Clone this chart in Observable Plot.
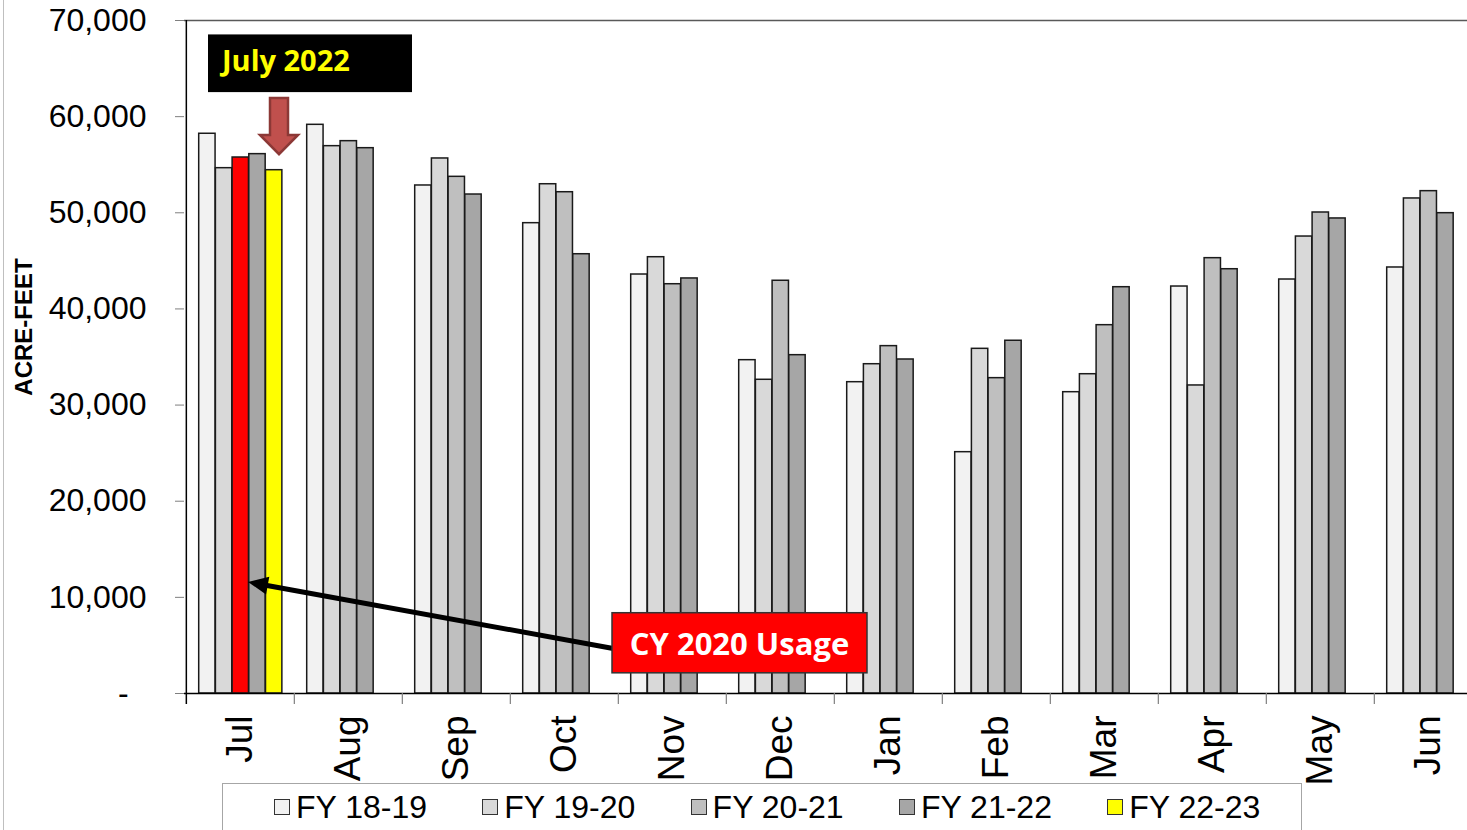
<!DOCTYPE html>
<html><head><meta charset="utf-8">
<script src="https://cdn.jsdelivr.net/npm/d3@7"></script>
<script src="https://cdn.jsdelivr.net/npm/@observablehq/plot@0.6"></script>
<style>
html,body{margin:0;padding:0;background:#fff;overflow:hidden;width:1467px;height:830px;}
#wrap{position:relative;width:1467px;height:830px;overflow:hidden;}
#chart{position:absolute;left:0;top:0;}
#legend{position:absolute;left:222px;top:783px;width:1080px;height:60px;border:1px solid #a6a6a6;box-sizing:border-box;font-family:"Liberation Sans",Arial,sans-serif;background:transparent;}
.item{position:absolute;top:0;height:46px;display:flex;align-items:center;font-size:32px;color:#000;white-space:nowrap;}
.sw{width:16px;height:16px;border:1px solid #333;box-sizing:border-box;margin-right:6px;}
#leftline{position:absolute;left:3px;top:0;width:1px;height:830px;background:#bfbfbf;}
</style></head><body><div id="wrap"><div id="chart"></div><div id="legend"></div><div id="leftline"></div></div>
<script>
// ---- data ----
const months = ["Jul","Aug","Sep","Oct","Nov","Dec","Jan","Feb","Mar","Apr","May","Jun"];
const seriesNames = ["FY 18-19","FY 19-20","FY 20-21","FY 21-22","FY 22-23"];
const seriesColors = ["#F2F2F2","#D9D9D9","#BFBFBF","#A6A6A6","#FFFF00"];
const fy1819 = [58220, 59150, 52840, 48920, 43580, 34670, 32380, 25100, 31340, 42330, 43060, 44310];
const fy1920 = [54640, 56930, 55650, 52970, 45380, 32630, 34250, 35850, 33210, 32040, 47530, 51490];
const fy2021 = [55750, 57450, 53740, 52140, 42570, 42930, 36130, 32800, 38310, 45280, 50030, 52250];
const fy2122 = [56100, 56720, 51900, 45690, 43170, 35190, 34740, 36690, 42260, 44130, 49410, 49960];
const fy2223 = [54430];
const highlight = {month: "Jul", series: "FY 20-21", color: "#FF0000"};
const yTicks = [0, 10000, 20000, 30000, 40000, 50000, 60000, 70000];
const yLabel = "ACRE-FEET";
const noteTop = "July 2022";
const noteBottom = "CY 2020 Usage";

const seriesValues = [fy1819, fy1920, fy2021, fy2122, fy2223];
const rows = seriesNames.flatMap((s, j) => seriesValues[j].map((v, i) => ({month: months[i], series: s, value: v, j})));

// ---- layout ----
const W = 1467, H = 830, ML = 184, MT = 20, MB = 137;
const xRange = [ML, 1484];
const bw = (xRange[1] - xRange[0]) / months.length;
const outer = 12.7, step = 16.7;

const barMarks = seriesNames.map((s, j) => Plot.barY(rows.filter(r => r.series === s), {
  x: "month", y: "value",
  fill: r => (r.month === highlight.month && r.series === highlight.series) ? highlight.color : seriesColors[j],
  stroke: "#1a1a1a", strokeWidth: 1.5,
  insetLeft: outer + j * step, insetRight: bw - outer - (j + 1) * step
}));

const chart = Plot.plot({
  width: W, height: H,
  marginLeft: ML, marginRight: 0, marginTop: MT, marginBottom: MB,
  style: {fontFamily: "'Liberation Sans', Arial, sans-serif", color: "#000", background: "transparent"},
  x: {type: "band", domain: months, range: xRange, padding: 0},
  y: {domain: [0, 70000], range: [H - MB, MT]},
  color: {type: "identity"},
  marks: [
    ...barMarks,
    Plot.ruleY([70000], {stroke: "#595959", strokeWidth: 1.5}),
    Plot.ruleY([0], {stroke: "#000", strokeWidth: 1.5}),
    Plot.ruleX(["Jul"], {x: d => d, dx: -bw / 2, stroke: "#000", strokeWidth: 1.5, insetBottom: -11}),
    Plot.ruleX(months.slice(1), {x: d => d, dx: -bw / 2, insetTop: H - MT - MB, insetBottom: -11, stroke: "#7f7f7f", strokeWidth: 1.2}),
    Plot.axisY({ticks: yTicks, tickFormat: d => d === 0 ? "-\u2007" : d3.format(",")(d), tickSize: 9, tickPadding: 29, fontSize: 32, stroke: "#7f7f7f", fill: "#000", label: null}),
    Plot.axisX({tickSize: 0, tickPadding: 22, tickRotate: -90, fontSize: 37, fill: "#000", label: null}),
    Plot.text([yLabel], {text: d => d, frameAnchor: "left", textAnchor: "middle", dx: -160, dy: -30, rotate: -90, fontSize: 24, fontWeight: "bold", fill: "#000"})
  ]
});
document.getElementById("chart").appendChild(chart);

// ---- annotations placed with the chart's own scales ----
const sx = chart.scale("x"), sy = chart.scale("y");
const X = v => sx.apply(v), Y = v => sy.apply(v);
const svg = d3.select(chart);
const g = svg.append("g");

// "July 2022" black box
const jb = {x0: X("Jul") + 22, x1: X("Aug") + 118, y0: Y(68500), y1: Y(62500)};
g.append("rect").attr("x", jb.x0).attr("y", jb.y0).attr("width", jb.x1 - jb.x0).attr("height", jb.y1 - jb.y0).attr("fill", "#000");
g.append("text").attr("x", jb.x0 + 14).attr("y", Y(64700)).attr("fill", "#FFFF00").attr("text-anchor", "start")
  .attr("font-family", "'Open Sans', sans-serif").attr("font-weight", "bold").attr("font-size", 29).text(noteTop);

// block down arrow
const cx = X("Jul") + 93, aTop = Y(61900), aBase = Y(58040), aTip = Y(56050);
g.append("path").attr("d", `M${cx - 9},${aTop} L${cx + 9},${aTop} L${cx + 9},${aBase} L${cx + 19},${aBase} L${cx},${aTip} L${cx - 19},${aBase} L${cx - 9},${aBase} Z`)
  .attr("fill", "#C0504D").attr("stroke", "#8C3836").attr("stroke-width", 2.5).attr("stroke-linejoin", "miter");

// black arrow to the CY 2020 bar
const tail = [X("Oct") + 110, Y(4500)], tip = [X("Jul") + 62, Y(11550)];
const dxA = tip[0] - tail[0], dyA = tip[1] - tail[1], L = Math.hypot(dxA, dyA), ux = dxA / L, uy = dyA / L;
const headLen = 20, headW = 9;
const base = [tip[0] - ux * headLen, tip[1] - uy * headLen];
g.append("line").attr("x1", tail[0]).attr("y1", tail[1]).attr("x2", base[0] + ux * 2).attr("y2", base[1] + uy * 2).attr("stroke", "#000").attr("stroke-width", 5);
g.append("path").attr("d", `M${tip[0]},${tip[1]} L${base[0] - uy * headW},${base[1] + ux * headW} L${base[0] + uy * headW},${base[1] - ux * headW} Z`).attr("fill", "#000");

// "CY 2020 Usage" red box
const rb = {x0: X("Oct") + 102, y0: Y(8350), y1: Y(2100)};
const rbw = 255;
g.append("rect").attr("x", rb.x0).attr("y", rb.y0).attr("width", rbw).attr("height", rb.y1 - rb.y0).attr("fill", "#FF0000").attr("stroke", "#333").attr("stroke-width", 1.5);
g.append("text").attr("x", rb.x0 + rbw / 2).attr("y", Y(3950)).attr("text-anchor", "middle").attr("fill", "#fff")
  .attr("font-family", "'Open Sans', sans-serif").attr("font-weight", "bold").attr("font-size", 31).text(noteBottom);

// ---- legend ----
const legend = document.getElementById("legend");
seriesNames.forEach((s, j) => {
  const it = document.createElement("div");
  it.className = "item";
  it.style.left = (51 + j * 208.3) + "px";
  const sw = document.createElement("div");
  sw.className = "sw";
  sw.style.background = seriesColors[j];
  const tx = document.createElement("span");
  tx.textContent = s;
  it.appendChild(sw); it.appendChild(tx);
  legend.appendChild(it);
});
</script></body></html>
